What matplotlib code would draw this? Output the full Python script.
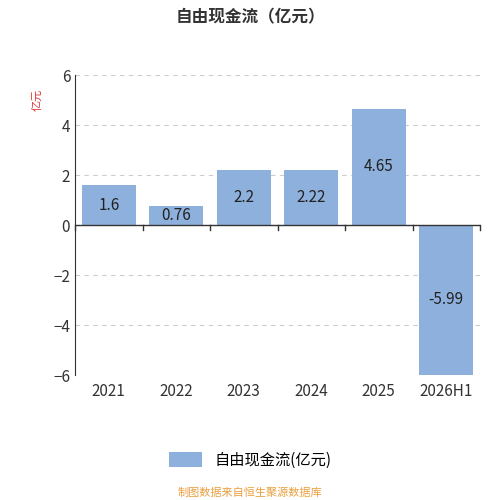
import matplotlib.pyplot as plt

plt.rcParams['font.family'] = ['Noto Sans CJK SC', 'DejaVu Sans']

years = ["2021", "2022", "2023", "2024", "2025", "2026H1"]
values = [1.6, 0.76, 2.2, 2.22, 4.65, -5.99]
labels = ["1.6", "0.76", "2.2", "2.22", "4.65", "-5.99"]

fig = plt.figure(figsize=(5, 5), dpi=100)
ax = fig.add_axes([0.15, 0.25, 0.81, 0.60])

x = range(len(years))
bars = ax.bar(x, values, width=0.8, color="#8eb0dd", label="自由现金流(亿元)", zorder=2)
for b, v, t in zip(bars, values, labels):
    ax.text(b.get_x() + b.get_width() / 2, v / 2, t, ha="center", va="center",
            fontsize=11, color="#222222", zorder=3)

ax.set_ylim(-6, 6)
ax.set_xlim(-0.5, len(years) - 0.5)
ax.set_yticks(range(-6, 7, 2))
ax.tick_params(axis="y", length=0, labelsize=11, colors="#333333")
ax.yaxis.grid(True, linestyle=(0, (4, 4)), color="#cccccc", zorder=0)
for s in ["top", "right", "bottom"]:
    ax.spines[s].set_visible(False)
ax.spines["left"].set_color("#333333")
ax.axhline(0, color="#333333", lw=1, zorder=3)
for i in range(len(years) + 1):
    ax.plot([i - 0.5, i - 0.5], [0, -0.2], color="#333333", lw=1, zorder=3, clip_on=False)
ax.set_xticks(list(x))
ax.set_xticklabels(years, fontsize=11, color="#333333")
ax.tick_params(axis="x", length=0, pad=6)

fig.text(0.075, 0.8, "亿元", rotation=90, color="#dd3333", fontsize=8, ha="center", va="center")
fig.text(0.5, 0.965, "自由现金流（亿元）", ha="center", va="center", fontsize=12, fontweight="bold", color="#333333")
fig.legend(loc="center", bbox_to_anchor=(0.5, 0.08), frameon=False, fontsize=11,
           handlelength=2.2, handleheight=1.2)
fig.text(0.5, 0.015, "制图数据来自恒生聚源数据库", ha="center", va="center", fontsize=8, color="#e8a040")

fig.savefig("out.png")
